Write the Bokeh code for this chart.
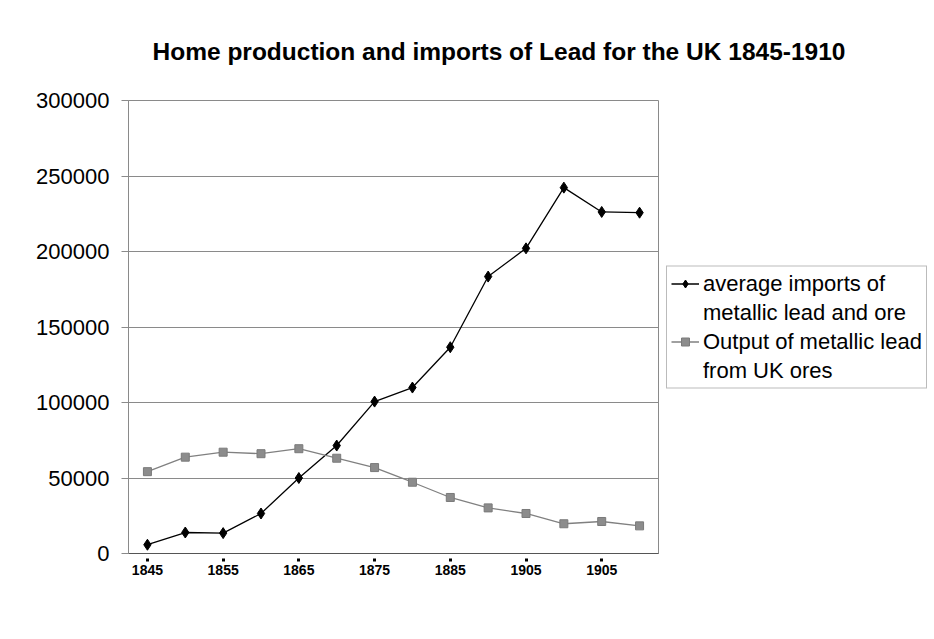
from bokeh.plotting import figure
from bokeh.models import Range1d, FixedTicker, Legend, LegendItem, BasicTickFormatter
from bokeh.embed import file_html
from bokeh.resources import INLINE

# ---- data ----
years = [1845, 1850, 1855, 1860, 1865, 1870, 1875, 1880, 1885, 1890, 1895, 1900, 1905, 1910]
imports = [5800, 13900, 13500, 26500, 50000, 71500, 100600, 109900, 136600, 183400, 202100, 242300, 226200, 225700]
output = [54200, 63800, 67100, 66100, 69400, 63100, 56900, 47200, 37100, 30200, 26500, 19700, 21200, 18300]
tick_years = [1845, 1855, 1865, 1875, 1885, 1895, 1905]
tick_labels = ["1845", "1855", "1865", "1875", "1885", "1905", "1905"]
y_ticks = [0, 50000, 100000, 150000, 200000, 250000, 300000]
title_text = "Home production and imports of Lead for the UK 1845-1910"
label_imports = ["average imports of", "metallic lead and ore"]
label_output = ["Output of metallic lead", "from UK ores"]

FONT = "Liberation Sans"

p = figure(frame_width=530, frame_height=453, output_backend="svg", toolbar_location=None,
           x_range=Range1d(1842.5, 1912.5), y_range=Range1d(0, 300000),
           min_border_left=128, min_border_top=99, min_border_bottom=84, min_border_right=0)

p.title.text = title_text
p.title.text_font = FONT
p.title.text_font_size = "24.5px"
p.title.text_font_style = "bold"
p.title.text_color = "black"
p.title.align = "left"
p.title.offset = 24
p.title.standoff = 71

p.outline_line_color = "#8a8a8a"
p.background_fill_color = "white"
p.border_fill_color = "white"

# grid
p.xgrid.grid_line_color = None
p.ygrid.grid_line_color = "#8a8a8a"
p.ygrid.grid_line_width = 1
p.ygrid.ticker = FixedTicker(ticks=y_ticks)

# y axis
p.yaxis.ticker = FixedTicker(ticks=y_ticks)
p.yaxis.formatter = BasicTickFormatter(use_scientific=False)
p.yaxis.major_label_text_font = FONT
p.yaxis.major_label_text_font_size = "22px"
p.yaxis.major_label_text_color = "black"
p.yaxis.axis_line_color = "#8a8a8a"
p.yaxis.major_tick_line_color = "#8a8a8a"
p.yaxis.major_tick_in = 0
p.yaxis.major_tick_out = 7
p.yaxis.minor_tick_line_color = None
p.yaxis.major_label_standoff = 12

# x axis
p.xaxis.ticker = FixedTicker(ticks=tick_years)
p.xaxis.major_label_overrides = {y: l for y, l in zip(tick_years, tick_labels)}
p.xaxis.major_label_text_font = FONT
p.xaxis.major_label_text_font_size = "14px"
p.xaxis.major_label_text_font_style = "bold"
p.xaxis.major_label_text_color = "black"
p.xaxis.axis_line_color = "#555555"
p.xaxis.major_tick_line_color = "black"
p.xaxis.major_tick_line_width = 3
p.xaxis.major_tick_in = -5
p.xaxis.major_tick_out = 8
p.xaxis.minor_tick_line_color = None
p.xaxis.major_label_standoff = 3

# series
l1 = p.line(years, imports, line_color="black", line_width=1.3)
s1 = p.scatter(years, imports, marker="diamond", size=11, fill_color="black", line_color="black")
l2 = p.line(years, output, line_color="#808080", line_width=1.3)
s2 = p.scatter(years, output, marker="square", size=8, fill_color="#8c8c8c", line_color="#7a7a7a")

# invisible renderers for the second line of each legend entry
d1 = p.line(x=[], y=[], line_alpha=0)
d2 = p.line(x=[], y=[], line_alpha=0)

legend = Legend(items=[LegendItem(label=label_imports[0], renderers=[l1, s1]),
                       LegendItem(label=label_imports[1], renderers=[d1]),
                       LegendItem(label=label_output[0], renderers=[l2, s2]),
                       LegendItem(label=label_output[1], renderers=[d2])],
                location="center_left")
legend.label_text_font = FONT
legend.label_text_font_size = "22px"
legend.label_text_color = "black"
legend.label_height = 23
legend.glyph_height = 20
legend.glyph_width = 28
legend.label_standoff = 4
legend.padding = 4
legend.spacing = 3
legend.margin = 8
legend.border_line_color = "#777777"
legend.border_line_width = 1
legend.background_fill_color = "white"
p.add_layout(legend, "right")

open("out.html", "w").write(file_html(p, INLINE))
